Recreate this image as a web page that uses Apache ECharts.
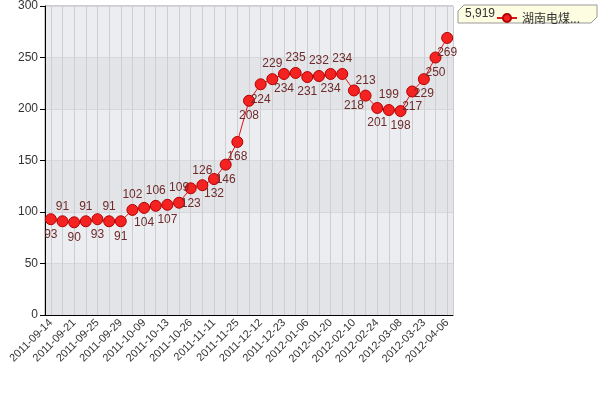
<!DOCTYPE html>
<html>
<head>
<meta charset="utf-8">
<script src="https://cdn.jsdelivr.net/npm/echarts@6/dist/echarts.min.js"></script>
<style>html,body{margin:0;padding:0;background:#fff;}#c{width:600px;height:400px;}</style>
</head>
<body>
<div id="c"></div>
<script>
const seriesName = '湖南电煤...';
const totalText = '5,919';
const categories = [
  '2011-09-14','2011-09-18','2011-09-21','2011-09-23','2011-09-25','2011-09-27','2011-09-29',
  '2011-10-05','2011-10-09','2011-10-11','2011-10-13','2011-10-20','2011-10-26','2011-11-03',
  '2011-11-11','2011-11-18','2011-11-25','2011-12-02','2011-12-12','2011-12-16','2011-12-23',
  '2011-12-30','2012-01-06','2012-01-13','2012-01-20','2012-02-03','2012-02-10','2012-02-17',
  '2012-02-24','2012-03-02','2012-03-08','2012-03-16','2012-03-23','2012-03-30','2012-04-06'
];
const values = [93,91,90,91,93,91,91,102,104,106,107,109,123,126,132,146,168,208,224,229,234,235,231,232,234,234,218,213,201,199,198,217,229,250,269];
const yTicks = [0,50,100,150,200,250,300];
// label placement per point (style only)
const labelBelowOdd = [15,17,31,33];

const chart = echarts.init(document.getElementById('c'), null, {renderer:'canvas'});
const data = values.map((v,i)=>{
  const below = (i % 2 === 0) || labelBelowOdd.indexOf(i) >= 0;
  return {value: v, label: {position: below ? 'bottom' : 'top'}};
});
chart.setOption({
  animation: false,
  backgroundColor: '#ffffff',
  textStyle: {fontFamily: 'Liberation Sans, Arial, sans-serif'},
  grid: {left: 45, right: 147, top: 5, bottom: 85, show: true, borderColor: '#9a9a9a', borderWidth: 1, backgroundColor: 'transparent'},
  legend: {
    data: [seriesName], left: 491, top: 7, itemWidth: 20, itemHeight: 10,
    textStyle: {fontSize: 12, color: '#333', fontFamily: 'Noto Sans CJK SC, sans-serif'},
    selectedMode: false
  },
  graphic: [
    {type: 'polygon', z: 1, shape: {points: [[464,5],[597,5],[597,17],[591,23],[458,23],[458,11]]},
     style: {fill: '#fdfde2', stroke: '#9a9a9a', lineWidth: 1}},
    {type: 'text', z: 5, left: 465, top: 8, style: {text: totalText, fill: '#333', fontSize: 12, fontFamily: 'Liberation Sans, Arial, sans-serif'}}
  ],
  xAxis: {
    type: 'category', data: categories, boundaryGap: true,
    axisLine: {lineStyle: {color: '#000', width: 1}},
    axisTick: {interval: 1, alignWithLabel: true, length: 4, lineStyle: {color: '#000'}},
    axisLabel: {interval: 1, rotate: 45, fontSize: 11, color: '#333', margin: 6},
    splitLine: {show: false}
  },
  yAxis: {
    type: 'value', min: yTicks[0], max: yTicks[yTicks.length-1], interval: 50,
    axisLine: {show: true, lineStyle: {color: '#000', width: 1}},
    axisTick: {show: true, length: 5, lineStyle: {color: '#000'}},
    axisLabel: {fontSize: 12, color: '#333', margin: 7},
    splitLine: {show: true, lineStyle: {color: '#d6d7da', width: 1}},
    splitArea: {show: true, areaStyle: {color: ['#e3e4e7', '#ecedf0']}}
  },
  series: [
    {
      name: '__grid', type: 'line', data: [], z: 1, zlevel: 0, silent: true,
      markLine: {
        silent: true, z: 1, symbol: ['none','none'], label: {show: false}, animation: false,
        lineStyle: {color: '#cdced2', width: 1, type: 'solid'},
        data: categories.map(c => ({xAxis: c}))
      }
    },
    {
      name: seriesName, type: 'line', data: data, z: 3,
      symbol: 'circle', symbolSize: 11, showAllSymbol: true,
      lineStyle: {color: '#e01515', width: 1},
      itemStyle: {color: '#f52222', borderColor: '#b30000', borderWidth: 1},
      label: {show: true, fontSize: 12, color: '#6e2a2a', distance: 3},
      labelLayout: {hideOverlap: false}
    }
  ]
});
</script>
</body>
</html>
